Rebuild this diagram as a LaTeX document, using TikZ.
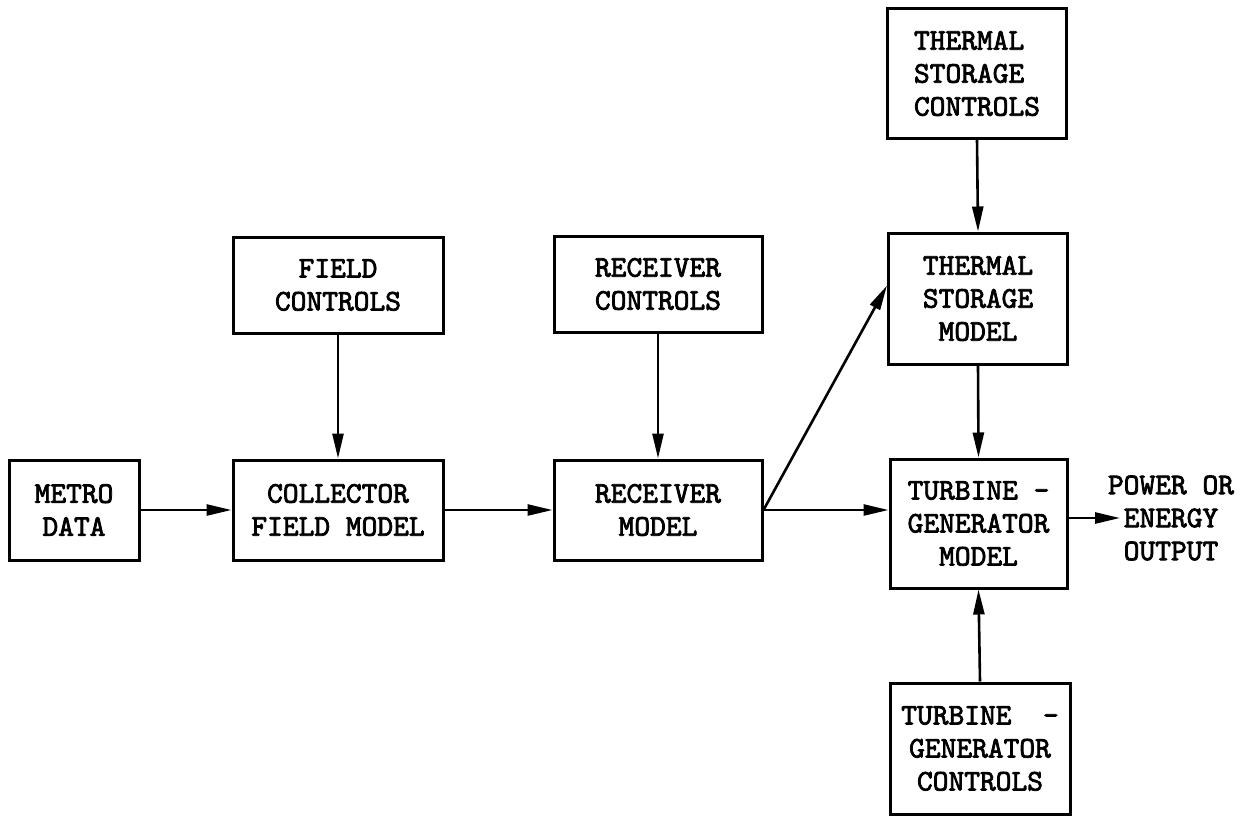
\documentclass[tikz,border=0pt]{standalone}
\usepackage{fontspec}
\newfontfamily\tw{lmmono10-regular}[Extension=.otf, FakeBold=2.5]
\usetikzlibrary{arrows.meta}
\begin{document}
\begin{tikzpicture}[x=1pt,y=-1pt,
  txt/.style={font=\tw\bfseries\fontsize{30}{33}\selectfont},
  box/.style={txt, draw, line width=3pt, inner sep=0pt, align=center},
  lbl/.style={txt, inner sep=0pt, align=center},
  arr/.style={line width=2.6pt, -{Triangle[length=25pt,width=11pt]}}]
\useasboundingbox (0,0) rectangle (1242,816);
% boxes
\node[box, minimum width=130pt, minimum height=100pt] (metro) at (74,510) {METRO\\DATA};
\node[box, minimum width=210pt, minimum height=100pt] (coll) at (338,510) {COLLECTOR\\FIELD MODEL};
\node[box, minimum width=210pt, minimum height=96pt] (field) at (338,285) {FIELD\\CONTROLS};
\node[box, minimum width=208pt, minimum height=96pt] (recctl) at (658,284) {RECEIVER\\CONTROLS};
\node[box, minimum width=208pt, minimum height=100pt] (recmod) at (658,510) {RECEIVER\\MODEL};
\node[box, minimum width=179pt, minimum height=129pt, align=left] (tsctl) at (977,73.5) {THERMAL\\STORAGE\\CONTROLS};
\node[box, minimum width=179pt, minimum height=131pt] (tsmod) at (978,298.5) {THERMAL\\STORAGE\\MODEL};
\node[box, minimum width=177pt, minimum height=129pt] (tgmod) at (978.5,523.5) {TURBINE -\\GENERATOR\\MODEL};
\node[box, minimum width=180pt, minimum height=131pt] (tgctl) at (980,748.5) {TURBINE~~-\\GENERATOR\\CONTROLS};
\node[lbl] (out) at (1171,518) {POWER OR\\ENERGY\\OUTPUT};
\coordinate (outtip) at (1120,518);
% connectors
\draw[arr] (metro.east) -- (coll.west);
\draw[arr] (coll.east) -- (recmod.west);
\draw[arr] (field.south) -- (coll.north);
\draw[arr] (recctl.south) -- (recmod.north);
\draw[arr] (recmod.east) -- (recmod.east -| tgmod.west);
\draw[arr] (recmod.east) -- ([yshift=13pt]tsmod.west);
\draw[arr] (tsctl.south) -- (tsmod.north);
\draw[arr] (tsmod.south) -- (tgmod.north);
\draw[arr] (tgctl.north) -- (tgmod.south);
\draw[arr] (tgmod.east |- outtip) -- (outtip);
\end{tikzpicture}
\end{document}
